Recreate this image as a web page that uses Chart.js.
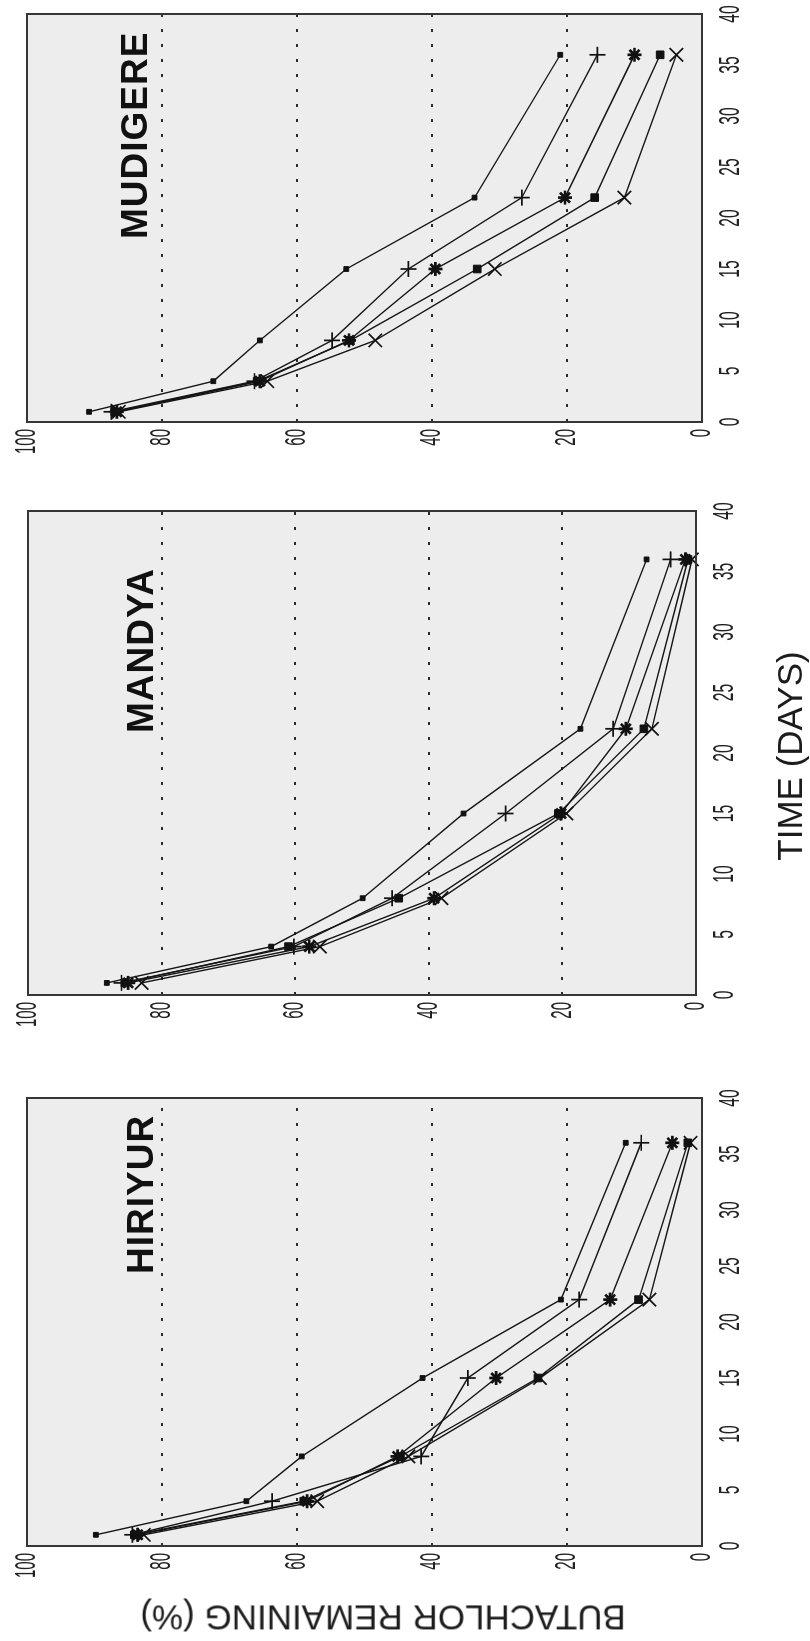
<!DOCTYPE html>
<html>
<head>
<meta charset="utf-8">
<title>Butachlor remaining - Hiriyur, Mandya, Mudigere</title>
<script src="https://cdn.jsdelivr.net/npm/chart.js@4.4.1/dist/chart.umd.min.js"></script>
<style>
  html, body { margin: 0; padding: 0; background: #fff; overflow: hidden; }
  body { width: 810px; height: 1641px; position: relative; }
  /* the figure is laid out upright (1641 x 810) and then turned a quarter to the left */
  #sheet {
    position: absolute; left: 0; top: 0;
    width: 1641px; height: 810px;
    transform-origin: 0 0;
    transform: translateY(1641px) rotate(-90deg);
  }
  #sheet canvas { position: absolute; left: 0; top: 0; }
  .site {
    position: absolute;
    font: bold 37px 'Liberation Sans', Arial, Helvetica, sans-serif;
    letter-spacing: 1px;
    line-height: 1; color: #111; white-space: nowrap;
  }
  .axis-title {
    position: absolute;
    font: 35px 'Liberation Sans', Arial, Helvetica, sans-serif;
    line-height: 1; color: #1c1c1c; white-space: nowrap;
    transform: translate(-50%, -50%);
  }
</style>
</head>
<body>
<div id="sheet">
  <canvas id="hiriyurChart" width="1641" height="810"></canvas>
  <canvas id="mandyaChart" width="1641" height="810"></canvas>
  <canvas id="mudigereChart" width="1641" height="810"></canvas>

  <div class="site" style="left:367px; top:122px;">HIRIYUR</div>
  <div class="site" style="left:908px; top:122px;">MANDYA</div>
  <div class="site" style="left:1402px; top:116px;">MUDIGERE</div>

  <div class="axis-title" style="left:23px; top:383px; transform: translate(-50%, -50%) rotate(-90deg);">BUTACHLOR REMAINING (%)</div>
  <div class="axis-title" style="left:885px; top:789px;">TIME (DAYS)</div>
</div>

<script>
// sampling days and axis ticks
const days = [1, 4, 8, 15, 22, 36];
const timeTicks = [0, 5, 10, 15, 20, 25, 30, 35, 40];
const valueTicks = [0, 20, 40, 60, 80, 100];
const seriesNames = ['Series 1', 'Series 2', 'Series 3', 'Series 4', 'Series 5'];

// Hiriyur
const hiriyur1 = [89.8, 67.5, 59.3, 41.4, 20.9, 11.3];
const hiriyur2 = [84.4, 63.7, 41.6, 34.7, 18.2, 9.0];
const hiriyur3 = [83.6, 58.5, 45.1, 30.5, 13.6, 4.4];
const hiriyur4 = [84.1, 59.0, 44.7, 24.3, 9.4, 2.1];
const hiriyur5 = [82.7, 57.0, 43.5, 24.0, 7.8, 1.7];

// Mandya
const mandya1 = [88.2, 63.6, 49.9, 34.8, 17.3, 7.4];
const mandya2 = [86.0, 60.2, 45.5, 28.5, 12.4, 3.8];
const mandya3 = [85.0, 57.9, 39.2, 20.2, 10.5, 1.6];
const mandya4 = [85.5, 61.0, 44.5, 20.6, 7.8, 1.2];
const mandya5 = [83.0, 56.3, 38.1, 19.4, 6.6, 0.6];

// Mudigere
const mudigere1 = [90.8, 72.4, 65.5, 52.7, 33.7, 21.0];
const mudigere2 = [87.5, 66.3, 54.8, 43.5, 26.7, 15.5];
const mudigere3 = [86.7, 65.5, 52.3, 39.5, 20.3, 10.0];
const mudigere4 = [87.0, 65.9, 52.1, 33.3, 15.9, 6.2];
const mudigere5 = [86.4, 64.4, 48.4, 30.7, 11.5, 3.8];

// marker look for each of the five series
const markerStyles = [
  { pointStyle: 'rect', pointRadius: 3.4, pointBorderWidth: 1 },
  { pointStyle: 'cross', pointRadius: 8, pointBorderWidth: 1.7 },
  { pointStyle: 'star', pointRadius: 7, pointBorderWidth: 2.7 },
  { pointStyle: 'rect', pointRadius: 5.4, pointBorderWidth: 1 },
  { pointStyle: 'crossRot', pointRadius: 9.5, pointBorderWidth: 1.7 }
];

// shaded plot area and the box round it
const panelFrame = {
  id: 'panelFrame',
  beforeDraw(chart) {
    const { ctx, chartArea: a } = chart;
    ctx.save();
    ctx.fillStyle = '#ededed';
    ctx.fillRect(a.left, a.top, a.right - a.left, a.bottom - a.top);
    ctx.restore();
  },
  afterDraw(chart) {
    const { ctx, chartArea: a } = chart;
    ctx.save();
    ctx.strokeStyle = '#363636';
    ctx.lineWidth = 2;
    ctx.strokeRect(a.left, a.top, a.right - a.left, a.bottom - a.top);
    ctx.restore();
  }
};

// the scanned figure uses tall, narrow digits
const tickLabels = {
  id: 'tickLabels',
  afterDraw(chart) {
    const { ctx, chartArea: a, scales } = chart;
    ctx.save();
    ctx.fillStyle = '#222';
    ctx.font = '30px "Liberation Sans", Arial, Helvetica, sans-serif';
    ctx.textBaseline = 'middle';
    scales.y.ticks.forEach(t => {
      ctx.save();
      ctx.translate(a.left - 7, scales.y.getPixelForValue(t.value));
      ctx.scale(0.5, 1);
      ctx.textAlign = 'right';
      ctx.fillText(String(t.value), 0, 0);
      ctx.restore();
    });
    scales.x.ticks.forEach(t => {
      ctx.save();
      ctx.translate(scales.x.getPixelForValue(t.value), a.bottom + 29);
      ctx.scale(0.52, 1);
      ctx.textAlign = 'center';
      ctx.fillText(String(t.value), 0, 0);
      ctx.restore();
    });
    ctx.restore();
  }
};

function makePanel(canvasId, box, series) {
  const datasets = series.map((vals, i) => Object.assign({
    label: seriesNames[i],
    data: days.map((d, j) => ({ x: d, y: vals[j] })),
    borderColor: '#161616',
    borderWidth: 1.4,
    pointBackgroundColor: '#111',
    pointBorderColor: '#111',
    tension: 0,
    clip: false
  }, markerStyles[i]));

  return new Chart(document.getElementById(canvasId), {
    type: 'line',
    data: { datasets: datasets },
    options: {
      responsive: false,
      animation: false,
      events: [],
      layout: {
        padding: { left: box.left, right: 1641 - box.right, top: box.top, bottom: 810 - box.bottom }
      },
      plugins: {
        legend: { display: false },
        tooltip: { enabled: false }
      },
      scales: {
        x: {
          type: 'linear', min: 0, max: 40,
          afterBuildTicks: s => { s.ticks = timeTicks.map(v => ({ value: v })); },
          afterFit: s => { s.height = 0; },
          ticks: { display: false },
          grid: { display: false },
          border: { display: false }
        },
        y: {
          type: 'linear', min: 0, max: 100,
          afterBuildTicks: s => { s.ticks = valueTicks.map(v => ({ value: v })); },
          afterFit: s => { s.width = 0; },
          ticks: { display: false },
          grid: {
            drawTicks: false,
            lineWidth: 2,
            color: c => (c.tick && c.tick.value > 0 && c.tick.value < 100) ? '#2a2a2a' : 'rgba(0,0,0,0)'
          },
          border: { display: false, dash: [3, 12] }
        }
      }
    },
    plugins: [panelFrame, tickLabels]
  });
}

makePanel('hiriyurChart', { left: 95, right: 543, top: 27, bottom: 702 },
  [hiriyur1, hiriyur2, hiriyur3, hiriyur4, hiriyur5]);
makePanel('mandyaChart', { left: 646, right: 1130, top: 28, bottom: 696 },
  [mandya1, mandya2, mandya3, mandya4, mandya5]);
makePanel('mudigereChart', { left: 1219, right: 1627, top: 27, bottom: 702 },
  [mudigere1, mudigere2, mudigere3, mudigere4, mudigere5]);
</script>
</body>
</html>
